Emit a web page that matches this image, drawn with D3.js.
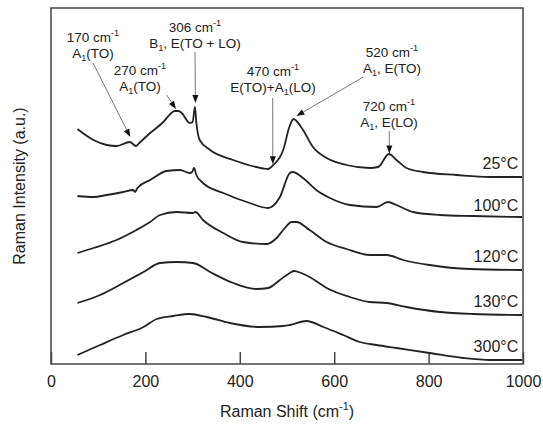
<!DOCTYPE html>
<html>
<head>
<meta charset="utf-8">
<script src="https://cdn.jsdelivr.net/npm/d3@7"></script>
<style>
  html, body { margin: 0; padding: 0; background: #fff; }
  #chart { width: 543px; height: 424px; }
  text { font-family: "Liberation Sans", Arial, sans-serif; fill: #222; }
</style>
</head>
<body>
<div id="chart"></div>
<script>
// spectra: [Raman shift (cm-1), intensity (a.u., offset stacked)]
const spectrum25 = [
  [56, 235], [90, 224], [118, 219], [139, 218], [167, 222], [180, 218], [187, 221],
  [210, 231], [238, 242], [255, 251], [262, 253], [270, 253], [277, 251], [294, 241],
  [300, 242], [305, 257], [308, 241], [315, 224], [337, 214], [386, 204], [435, 197],
  [460, 195], [471, 199], [492, 214], [505, 237], [514, 245], [520, 243], [534, 234],
  [555, 217], [584, 206], [626, 199], [675, 196], [693, 197], [716, 210], [732, 204],
  [753, 196], [788, 192], [859, 189], [930, 187], [998, 187]
];
const spectrum100 = [
  [56, 168], [90, 167], [118, 169], [153, 172], [174, 174], [178, 172], [183, 176],
  [210, 184], [245, 193], [273, 194], [294, 191], [299, 192], [303, 196], [308, 189],
  [322, 181], [365, 171], [421, 161], [460, 156], [485, 167], [506, 191], [512, 192],
  [534, 186], [562, 174], [591, 166], [633, 159], [690, 157], [714, 162], [732, 159],
  [767, 152], [824, 149], [894, 148], [998, 147]
];
const spectrum120 = [
  [56, 111], [90, 116], [139, 124], [181, 134], [210, 142], [231, 149], [266, 152],
  [301, 151], [306, 152], [322, 144], [365, 131], [407, 122], [457, 120], [478, 126],
  [492, 134], [510, 142], [520, 142], [548, 134], [584, 122], [626, 115], [675, 109],
  [711, 109], [746, 104], [802, 99], [887, 95], [998, 94]
];
const spectrum130 = [
  [56, 61], [104, 69], [153, 81], [196, 92], [231, 101], [266, 102], [301, 101],
  [337, 92], [386, 81], [435, 75], [460, 76], [485, 84], [506, 91], [515, 93],
  [530, 91], [548, 87], [584, 76], [633, 67], [675, 62], [711, 61], [753, 57],
  [824, 52], [894, 50], [998, 49]
];
const spectrum300 = [
  [56, 9], [104, 19], [153, 29], [196, 37], [224, 45], [259, 48], [294, 50],
  [330, 47], [379, 41], [443, 37], [492, 38], [506, 39], [541, 43], [577, 37],
  [619, 29], [654, 22], [690, 19], [732, 16], [802, 11], [873, 6], [930, 4], [998, 4]
];
const temperatures = ['25°C', '100°C', '120°C', '130°C', '300°C'];
const spectra = [spectrum25, spectrum100, spectrum120, spectrum130, spectrum300];

const xTicks = [0, 200, 400, 600, 800, 1000];

// peak assignments on the 25°C spectrum
const peakShifts = [170, 270, 306, 470, 520, 720];
const peakWaves = ['170 cm^-1', '270 cm^-1', '306 cm^-1', '470 cm^-1', '520 cm^-1', '720 cm^-1'];
const peakModes = ['A_1(TO)', 'A_1(TO)', 'B_1, E(TO + LO)', 'E(TO)+A_1(LO)', 'A_1, E(TO)', 'A_1, E(LO)'];

class RamanChart {
  constructor(id) {
    this.id = id;
    this.width = 543;
    this.height = 424;
    this.margin = { top: 8, right: 20, bottom: 60, left: 51 };
    this.init();
  }
  init() {
    this.initSvg();
    this.initScale();
    this.initAxis();
    this.initLines();
    this.initAnnotations();
    return this;
  }
  initSvg() {
    this.innerWidth = this.width - this.margin.left - this.margin.right;
    this.innerHeight = this.height - this.margin.top - this.margin.bottom;
    this.svg = d3.select(`#${this.id}`)
      .append('svg')
      .attr('width', this.width)
      .attr('height', this.height);
    this.mg = this.svg.append('g')
      .attr('transform', `translate(${this.margin.left},${this.margin.top})`);
  }
  initScale() {
    this.xScale = d3.scaleLinear().domain([0, 1000]).range([0, this.innerWidth]);
    this.yScale = d3.scaleLinear().domain([0, 356]).range([this.innerHeight, 0]);
  }
  // text with ^sup and _sub parts
  richText(sel, str, size) {
    const parts = str.split(/(\^-?\d+|_\d+)/).filter(s => s.length);
    let shift = 0;
    parts.forEach(p => {
      let target = 0, txt = p, fs = size;
      if (p[0] === '^') { target = -size * 0.42; txt = p.slice(1); fs = size * 0.68; }
      else if (p[0] === '_') { target = size * 0.25; txt = p.slice(1); fs = size * 0.68; }
      sel.append('tspan')
        .attr('dy', target - shift)
        .attr('font-size', fs)
        .text(txt);
      shift = target;
    });
  }
  initAxis() {
    const axis = this.mg.append('g')
      .attr('transform', `translate(0,${this.innerHeight})`)
      .call(d3.axisBottom(this.xScale)
        .tickValues(xTicks)
        .tickFormat(d3.format('d'))
        .tickSizeInner(-12)
        .tickSizeOuter(0)
        .tickPadding(11.5));
    axis.select('.domain').remove();
    axis.selectAll('line').attr('stroke', '#444').attr('stroke-width', 1.5);
    axis.selectAll('text')
      .attr('font-size', 16)
      .attr('fill', '#222')
      .attr('font-family', '"Liberation Sans", Arial, sans-serif');

    // frame
    this.mg.append('rect')
      .attr('width', this.innerWidth)
      .attr('height', this.innerHeight)
      .attr('fill', 'none')
      .attr('stroke', '#444')
      .attr('stroke-width', 1.5);

    const xTitle = this.mg.append('text')
      .attr('x', this.innerWidth / 2)
      .attr('y', this.innerHeight + 52.5)
      .attr('text-anchor', 'middle')
      .attr('font-size', 16);
    this.richText(xTitle, 'Raman Shift (cm^-1)', 16);

    this.svg.append('text')
      .attr('transform', `translate(25,${this.margin.top + this.innerHeight / 2}) rotate(-90)`)
      .attr('text-anchor', 'middle')
      .attr('font-size', 16)
      .text('Raman Intensity (a.u.)');
  }
  initLines() {
    const line = d3.line()
      .x(d => this.xScale(d[0]))
      .y(d => this.yScale(d[1]))
      .curve(d3.curveMonotoneX);
    this.mg.append('g')
      .selectAll('path')
      .data(spectra)
      .join('path')
      .attr('d', line)
      .attr('fill', 'none')
      .attr('stroke', '#222')
      .attr('stroke-width', 1.8)
      .attr('stroke-linejoin', 'round');

    this.mg.append('g')
      .selectAll('text')
      .data(temperatures)
      .join('text')
      .attr('x', this.xScale(990))
      .attr('y', (d, i) => this.yScale(spectra[i][spectra[i].length - 1][1]) - (i === 1 ? 6 : 8.5))
      .attr('text-anchor', 'end')
      .attr('font-size', 16)
      .text(d => d);
  }
  initAnnotations() {
    const ref = spectrum25;
    const valueAt = s => {
      const i = d3.bisector(d => d[0]).left(ref, s);
      const a = ref[Math.max(i - 1, 0)], b = ref[i];
      if (!b) return a[1];
      return a[1] + (b[1] - a[1]) * (s - a[0]) / (b[0] - a[0]);
    };
    // label placement (inside the plot group) and arrow tails
    const layout = [
      { cx: 42, y: 34, tail: [42, 55], gap: 6, dx: -1 },
      { cx: 89, y: 67, tail: [115.7, 87], gap: 2, dx: -2.5 },
      { cx: 144, y: 24, tail: [144, 44], gap: 4, dx: 0, at: 305 },
      { cx: 222, y: 68, tail: [221.7, 90], gap: 1, dx: 0 },
      { cx: 341, y: 49, tail: [312.3, 69], gap: 5, dx: 0 },
      { cx: 338, y: 103, tail: [338.3, 123], gap: 2, dx: -1.5 }
    ];
    const fs = 13.5;
    const g = this.mg.append('g');
    peakShifts.forEach((s, i) => {
      const l = layout[i];
      const t1 = g.append('text').attr('x', l.cx).attr('y', l.y)
        .attr('text-anchor', 'middle').attr('font-size', fs);
      this.richText(t1, peakWaves[i], fs);
      const t2 = g.append('text').attr('x', l.cx).attr('y', l.y + 15.5)
        .attr('text-anchor', 'middle').attr('font-size', fs);
      this.richText(t2, peakModes[i], fs);

      const tip = [this.xScale(s) + l.dx, this.yScale(valueAt(l.at || s)) - l.gap];
      const ang = Math.atan2(tip[1] - l.tail[1], tip[0] - l.tail[0]);
      const len = 8, hw = 3;
      const base = [tip[0] - len * Math.cos(ang), tip[1] - len * Math.sin(ang)];
      g.append('line')
        .attr('x1', l.tail[0]).attr('y1', l.tail[1])
        .attr('x2', base[0]).attr('y2', base[1])
        .attr('stroke', '#777')
        .attr('stroke-width', 1);
      const px = -Math.sin(ang) * hw, py = Math.cos(ang) * hw;
      g.append('path')
        .attr('d', `M${tip[0]},${tip[1]}L${base[0] + px},${base[1] + py}L${base[0] - px},${base[1] - py}Z`)
        .attr('fill', '#111');
    });
  }
}

new RamanChart('chart');
</script>
</body>
</html>
